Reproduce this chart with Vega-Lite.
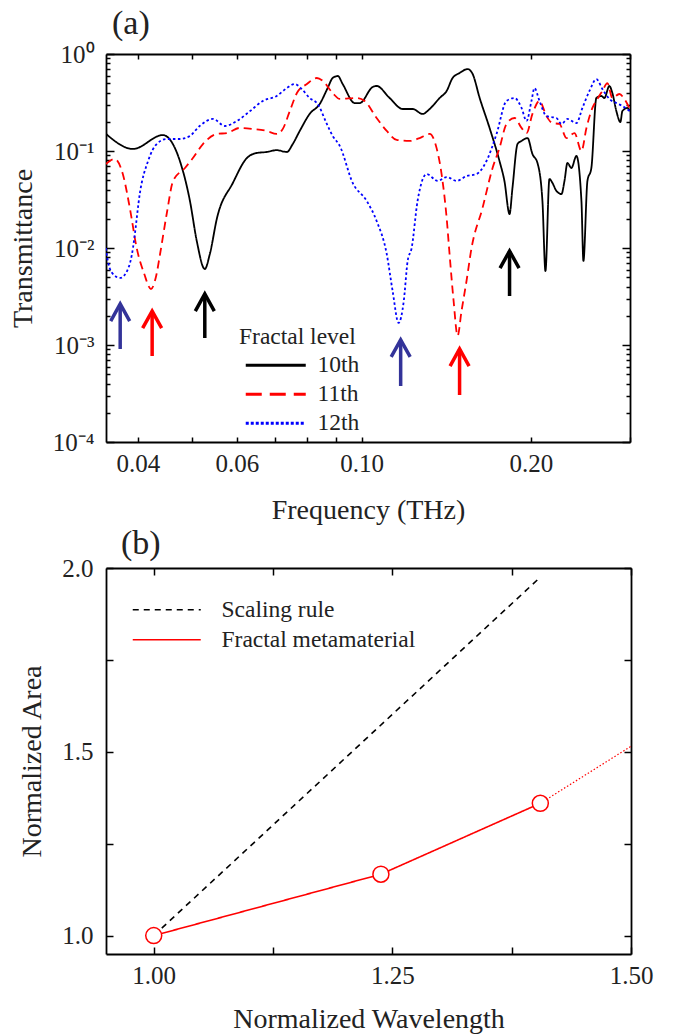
{
  "$schema": "https://vega.github.io/schema/vega-lite/v6.json",
  "autosize": {"type": "pad"},
  "padding": {"left": 9, "top": 7, "right": 5, "bottom": 5},
  "background": "white",
  "spacing": 126,
  "bounds": "flush",
  "resolve": {"scale": {"color": "independent", "strokeDash": "independent"}, "legend": {"color": "independent", "strokeDash": "independent"}},
  "config": {
    "font": "Liberation Serif",
    "view": {"stroke": null},
    "style": {"guide-label": {"font": "Liberation Serif"}, "guide-title": {"font": "Liberation Serif"}},
    "axis": {
      "domainColor": "black", "domainWidth": 1.8, "tickColor": "black", "tickWidth": 1.5,
      "grid": false, "labelColor": "#222", "titleColor": "#222",
      "labelFont": "Liberation Serif", "titleFont": "Liberation Serif",
      "labelFontSize": 25, "titleFontSize": 28, "titleFontWeight": "normal"
    },
    "legend": {"labelFont": "Liberation Serif", "titleFont": "Liberation Serif", "labelColor": "#222", "titleColor": "#222", "labelLimit": 0},
    "title": {"font": "Liberation Serif", "fontSize": 34, "fontWeight": "normal", "anchor": "start", "frame": "group", "color": "#222"}
  },
  "vconcat": [
    {
      "width": 524, "height": 388,
      "title": {"text": "(a)", "dx": 6, "offset": 1},
      "resolve": {"axis": {"x": "independent", "y": "independent"}, "scale": {"color": "independent"}},
      "layer": [
        {
          "data": {"values": [
            {"level":"10th","f":0.0351,"T":0.150},{"level":"10th","f":0.0392,"T":0.105},{"level":"10th","f":0.0443,"T":0.146},{"level":"10th","f":0.0475,"T":0.0789},{"level":"10th","f":0.0495,"T":0.0305},{"level":"10th","f":0.0509,"T":0.0118},{"level":"10th","f":0.0526,"T":0.00607},{"level":"10th","f":0.0537,"T":0.00867},{"level":"10th","f":0.0553,"T":0.0204},{"level":"10th","f":0.0590,"T":0.0468},{"level":"10th","f":0.0625,"T":0.0847},{"level":"10th","f":0.0651,"T":0.0954},{"level":"10th","f":0.0678,"T":0.0977},{"level":"10th","f":0.0706,"T":0.102},{"level":"10th","f":0.0736,"T":0.0977},{"level":"10th","f":0.0754,"T":0.118},{"level":"10th","f":0.0776,"T":0.161},{"level":"10th","f":0.0808,"T":0.241},{"level":"10th","f":0.0842,"T":0.305},{"level":"10th","f":0.0870,"T":0.446},{"level":"10th","f":0.0888,"T":0.566},{"level":"10th","f":0.0907,"T":0.593},{"level":"10th","f":0.0925,"T":0.491},{"level":"10th","f":0.0972,"T":0.312},{"level":"10th","f":0.0992,"T":0.312},{"level":"10th","f":0.1046,"T":0.457},{"level":"10th","f":0.1063,"T":0.468},{"level":"10th","f":0.1121,"T":0.352},{"level":"10th","f":0.1183,"T":0.271},{"level":"10th","f":0.1232,"T":0.271},{"level":"10th","f":0.1283,"T":0.241},{"level":"10th","f":0.1321,"T":0.271},{"level":"10th","f":0.1376,"T":0.352},{"level":"10th","f":0.1416,"T":0.416},{"level":"10th","f":0.1451,"T":0.566},{"level":"10th","f":0.1493,"T":0.637},{"level":"10th","f":0.1543,"T":0.700},{"level":"10th","f":0.1575,"T":0.622},{"level":"10th","f":0.1621,"T":0.352},{"level":"10th","f":0.1688,"T":0.173},{"level":"10th","f":0.1758,"T":0.0789},{"level":"10th","f":0.1794,"T":0.0491},{"level":"10th","f":0.1832,"T":0.0224},{"level":"10th","f":0.1854,"T":0.0416},{"level":"10th","f":0.1893,"T":0.118},{"level":"10th","f":0.1924,"T":0.127},{"level":"10th","f":0.1972,"T":0.136},{"level":"10th","f":0.2012,"T":0.0931},{"level":"10th","f":0.2054,"T":0.0752},{"level":"10th","f":0.2096,"T":0.0305},{"level":"10th","f":0.2122,"T":0.00579},{"level":"10th","f":0.2157,"T":0.0514},{"level":"10th","f":0.2184,"T":0.0468},{"level":"10th","f":0.2220,"T":0.0387},{"level":"10th","f":0.2266,"T":0.0360},{"level":"10th","f":0.2294,"T":0.0491},{"level":"10th","f":0.2322,"T":0.0752},{"level":"10th","f":0.2360,"T":0.0668},{"level":"10th","f":0.2409,"T":0.0888},{"level":"10th","f":0.2459,"T":0.0305},{"level":"10th","f":0.2479,"T":0.00735},{"level":"10th","f":0.2520,"T":0.0491},{"level":"10th","f":0.2561,"T":0.0668},{"level":"10th","f":0.2614,"T":0.352},{"level":"10th","f":0.2668,"T":0.369},{"level":"10th","f":0.2701,"T":0.352},{"level":"10th","f":0.2757,"T":0.468},{"level":"10th","f":0.2791,"T":0.396},{"level":"10th","f":0.2837,"T":0.258},{"level":"10th","f":0.2884,"T":0.199},{"level":"10th","f":0.2908,"T":0.258},{"level":"10th","f":0.2967,"T":0.278},{"level":"10th","f":0.2998,"T":0.258},
            {"level":"11th","f":0.0351,"T":0.0735},{"level":"11th","f":0.0364,"T":0.0827},{"level":"11th","f":0.0376,"T":0.0579},{"level":"11th","f":0.0387,"T":0.0258},{"level":"11th","f":0.0398,"T":0.0100},{"level":"11th","f":0.0410,"T":0.00552},{"level":"11th","f":0.0422,"T":0.00378},{"level":"11th","f":0.0431,"T":0.00514},{"level":"11th","f":0.0438,"T":0.00867},{"level":"11th","f":0.0450,"T":0.0224},{"level":"11th","f":0.0462,"T":0.0491},{"level":"11th","f":0.0485,"T":0.0668},{"level":"11th","f":0.0501,"T":0.0847},{"level":"11th","f":0.0522,"T":0.118},{"level":"11th","f":0.0553,"T":0.150},{"level":"11th","f":0.0576,"T":0.153},{"level":"11th","f":0.0607,"T":0.173},{"level":"11th","f":0.0640,"T":0.169},{"level":"11th","f":0.0678,"T":0.161},{"level":"11th","f":0.0706,"T":0.150},{"level":"11th","f":0.0724,"T":0.169},{"level":"11th","f":0.0745,"T":0.258},{"level":"11th","f":0.0767,"T":0.396},{"level":"11th","f":0.0799,"T":0.491},{"level":"11th","f":0.0832,"T":0.566},{"level":"11th","f":0.0853,"T":0.527},{"level":"11th","f":0.0888,"T":0.396},{"level":"11th","f":0.0914,"T":0.344},{"level":"11th","f":0.0980,"T":0.352},{"level":"11th","f":0.1012,"T":0.328},{"level":"11th","f":0.1063,"T":0.219},{"level":"11th","f":0.1108,"T":0.161},{"level":"11th","f":0.1154,"T":0.130},{"level":"11th","f":0.1217,"T":0.127},{"level":"11th","f":0.1268,"T":0.136},{"level":"11th","f":0.1321,"T":0.150},{"level":"11th","f":0.1359,"T":0.107},{"level":"11th","f":0.1387,"T":0.0579},{"level":"11th","f":0.1416,"T":0.0204},{"level":"11th","f":0.1433,"T":0.00867},{"level":"11th","f":0.1457,"T":0.00284},{"level":"11th","f":0.1481,"T":0.00124},{"level":"11th","f":0.1505,"T":0.00224},{"level":"11th","f":0.1536,"T":0.00457},{"level":"11th","f":0.1568,"T":0.0100},{"level":"11th","f":0.1640,"T":0.0258},{"level":"11th","f":0.1709,"T":0.0668},{"level":"11th","f":0.1758,"T":0.107},{"level":"11th","f":0.1809,"T":0.190},{"level":"11th","f":0.1870,"T":0.219},{"level":"11th","f":0.1924,"T":0.173},{"level":"11th","f":0.1964,"T":0.153},{"level":"11th","f":0.2012,"T":0.241},{"level":"11th","f":0.2071,"T":0.328},{"level":"11th","f":0.2131,"T":0.229},{"level":"11th","f":0.2184,"T":0.194},{"level":"11th","f":0.2247,"T":0.190},{"level":"11th","f":0.2313,"T":0.136},{"level":"11th","f":0.2390,"T":0.153},{"level":"11th","f":0.2459,"T":0.100},{"level":"11th","f":0.2510,"T":0.173},{"level":"11th","f":0.2572,"T":0.278},{"level":"11th","f":0.2625,"T":0.344},{"level":"11th","f":0.2679,"T":0.416},{"level":"11th","f":0.2735,"T":0.502},{"level":"11th","f":0.2791,"T":0.352},{"level":"11th","f":0.2872,"T":0.387},{"level":"11th","f":0.2932,"T":0.344},{"level":"11th","f":0.2998,"T":0.271},
            {"level":"12th","f":0.0351,"T":0.0100},{"level":"12th","f":0.0352,"T":0.00867},{"level":"12th","f":0.0360,"T":0.00552},{"level":"12th","f":0.0372,"T":0.00491},{"level":"12th","f":0.0384,"T":0.00607},{"level":"12th","f":0.0392,"T":0.0100},{"level":"12th","f":0.0395,"T":0.0139},{"level":"12th","f":0.0403,"T":0.0360},{"level":"12th","f":0.0417,"T":0.0789},{"level":"12th","f":0.0432,"T":0.118},{"level":"12th","f":0.0450,"T":0.133},{"level":"12th","f":0.0475,"T":0.133},{"level":"12th","f":0.0495,"T":0.143},{"level":"12th","f":0.0515,"T":0.181},{"level":"12th","f":0.0544,"T":0.214},{"level":"12th","f":0.0571,"T":0.181},{"level":"12th","f":0.0600,"T":0.204},{"level":"12th","f":0.0633,"T":0.258},{"level":"12th","f":0.0667,"T":0.328},{"level":"12th","f":0.0706,"T":0.369},{"level":"12th","f":0.0736,"T":0.446},{"level":"12th","f":0.0760,"T":0.491},{"level":"12th","f":0.0782,"T":0.436},{"level":"12th","f":0.0808,"T":0.352},{"level":"12th","f":0.0835,"T":0.305},{"level":"12th","f":0.0867,"T":0.190},{"level":"12th","f":0.0888,"T":0.143},{"level":"12th","f":0.0914,"T":0.113},{"level":"12th","f":0.0964,"T":0.0468},{"level":"12th","f":0.1021,"T":0.0305},{"level":"12th","f":0.1063,"T":0.0190},{"level":"12th","f":0.1108,"T":0.00867},{"level":"12th","f":0.1135,"T":0.00360},{"level":"12th","f":0.1163,"T":0.00169},{"level":"12th","f":0.1188,"T":0.00284},{"level":"12th","f":0.1207,"T":0.00735},{"level":"12th","f":0.1227,"T":0.0100},{"level":"12th","f":0.1257,"T":0.0305},{"level":"12th","f":0.1305,"T":0.0579},{"level":"12th","f":0.1365,"T":0.0491},{"level":"12th","f":0.1416,"T":0.0539},{"level":"12th","f":0.1475,"T":0.0491},{"level":"12th","f":0.1536,"T":0.0552},{"level":"12th","f":0.1600,"T":0.0579},{"level":"12th","f":0.1667,"T":0.0789},{"level":"12th","f":0.1737,"T":0.150},{"level":"12th","f":0.1809,"T":0.328},{"level":"12th","f":0.1870,"T":0.352},{"level":"12th","f":0.1924,"T":0.278},{"level":"12th","f":0.1964,"T":0.204},{"level":"12th","f":0.2004,"T":0.328},{"level":"12th","f":0.2029,"T":0.446},{"level":"12th","f":0.2071,"T":0.328},{"level":"12th","f":0.2131,"T":0.229},{"level":"12th","f":0.2220,"T":0.219},{"level":"12th","f":0.2266,"T":0.190},{"level":"12th","f":0.2322,"T":0.214},{"level":"12th","f":0.2409,"T":0.194},{"level":"12th","f":0.2469,"T":0.278},{"level":"12th","f":0.2541,"T":0.416},{"level":"12th","f":0.2614,"T":0.552},{"level":"12th","f":0.2679,"T":0.436},{"level":"12th","f":0.2757,"T":0.344},{"level":"12th","f":0.2837,"T":0.312},{"level":"12th","f":0.2908,"T":0.291},{"level":"12th","f":0.2998,"T":0.258}
          ]},
          "mark": {"type": "line", "strokeWidth": 1.8, "clip": true, "interpolate": "monotone"},
          "encoding": {
            "x": {"field": "f", "type": "quantitative",
              "scale": {"type": "log", "domain": [0.0351, 0.3], "nice": false, "zero": false},
              "axis": {"orient": "bottom", "title": "Frequency (THz)", "values": [0.04,0.05,0.06,0.07,0.08,0.09,0.1,0.2,0.3],
                "labelExpr": "indexof(['0.04','0.06','0.10','0.20'], format(datum.value,'.2f')) >= 0 ? format(datum.value,'.2f') : ''",
                "labelFont": "Liberation Serif", "titleFont": "Liberation Serif",
                "tickSize": -5, "labelPadding": 14, "titlePadding": 20, "labelFlush": false, "labelOverlap": false}},
            "y": {"field": "T", "type": "quantitative",
              "scale": {"type": "log", "domain": [0.0001, 1], "nice": false, "zero": false},
              "axis": {"orient": "left", "title": "Transmittance",
                "values": [0.0001,0.0002,0.0003,0.0004,0.0005,0.0006,0.0007,0.0008,0.0009,0.001,0.002,0.003,0.004,0.005,0.006,0.007,0.008,0.009,0.01,0.02,0.03,0.04,0.05,0.06,0.07,0.08,0.09,0.1,0.2,0.3,0.4,0.5,0.6,0.7,0.8,0.9,1],
                "labelExpr": "abs(log(datum.value)/LN10 - round(log(datum.value)/LN10)) < 1e-6 ? ['10⁻⁴','10⁻³','10⁻²','10⁻¹','10⁰'][round(log(datum.value)/LN10)+4] : ''",
                "labelFont": "Liberation Serif", "titleFont": "Liberation Serif",
                "tickSize": {"condition": {"test": "abs(log(datum.value)/LN10 - round(log(datum.value)/LN10)) < 1e-6", "value": -8}, "value": -4},
                "labelPadding": 20, "titlePadding": 15, "labelFlush": false, "labelOverlap": false}},
            "color": {"field": "level", "type": "nominal",
              "scale": {"domain": ["10th", "11th", "12th"], "range": ["black", "#ff0000", "#0000ff"]},
              "legend": {"orient": "none", "legendX": 133, "legendY": 271, "title": "Fractal level",
                "labelFont": "Liberation Serif", "titleFont": "Liberation Serif",
                "titleFontSize": 23.5, "titleFontWeight": "normal", "labelFontSize": 23.5, "titlePadding": 5,
                "symbolType": "M-0.5,0H5.5", "symbolSize": 400, "symbolStrokeWidth": 3, "labelOffset": 55, "rowPadding": 4,
                "encode": {"symbols": {"update": {
                  "strokeDash": [{"test": "datum.value === '11th'", "value": [16, 8]}, {"test": "datum.value === '12th'", "value": [3, 2]}, {"value": [1, 0]}],
                  "stroke": [{"test": "datum.value === '11th'", "value": "#ff0000"}, {"test": "datum.value === '12th'", "value": "#2e3192"}, {"value": "black"}]}}}}},
            "strokeDash": {"field": "level", "type": "nominal", "legend": null,
              "scale": {"domain": ["10th", "11th", "12th"], "range": [[1, 0], [8, 5], [2.5, 2.5]]}}
          }
        },
        {
          "data": {"name": "arrows", "values": [
            {"level":"12th","f":0.0372,"tip":0.00265,"tail":0.00091},
            {"level":"11th","f":0.0424,"tip":0.00224,"tail":0.00077},
            {"level":"10th","f":0.0526,"tip":0.00336,"tail":0.00118},
            {"level":"12th","f":0.1173,"tip":0.00113,"tail":0.000378},
            {"level":"11th","f":0.1493,"tip":0.00091,"tail":0.000305},
            {"level":"10th","f":0.1832,"tip":0.00931,"tail":0.0032}
          ]},
          "mark": {"type": "rule", "strokeWidth": 3.5},
          "encoding": {
            "x": {"field": "f", "type": "quantitative",
              "axis": {"orient": "top", "title": null, "labels": false, "values": [0.04,0.05,0.06,0.07,0.08,0.09,0.1,0.2,0.3], "tickSize": -5}},
            "y": {"field": "tip", "type": "quantitative",
              "axis": {"orient": "right", "title": null, "labels": false,
                "values": [0.0001,0.0002,0.0003,0.0004,0.0005,0.0006,0.0007,0.0008,0.0009,0.001,0.002,0.003,0.004,0.005,0.006,0.007,0.008,0.009,0.01,0.02,0.03,0.04,0.05,0.06,0.07,0.08,0.09,0.1,0.2,0.3,0.4,0.5,0.6,0.7,0.8,0.9,1],
                "tickSize": {"condition": {"test": "abs(log(datum.value)/LN10 - round(log(datum.value)/LN10)) < 1e-6", "value": -8}, "value": -4}}},
            "y2": {"field": "tail"},
            "color": {"field": "level", "type": "nominal", "scale": {"domain": ["10th", "11th", "12th"], "range": ["black", "#ff0000", "#333399"]}, "legend": null}
          }
        },
        {
          "data": {"name": "arrows"},
          "mark": {"type": "point", "shape": "M-1,1.8L0,0L1,1.8", "size": 361, "filled": false, "strokeWidth": 3.5, "strokeJoin": "miter", "opacity": 1},
          "encoding": {
            "x": {"field": "f", "type": "quantitative", "axis": null},
            "y": {"field": "tip", "type": "quantitative", "axis": null},
            "color": {"field": "level", "type": "nominal", "scale": {"domain": ["10th", "11th", "12th"], "range": ["black", "#ff0000", "#333399"]}, "legend": null}
          }
        }
      ]
    },
    {
      "width": 525, "height": 386,
      "title": {"text": "(b)", "dx": 15, "offset": -5},
      "resolve": {"axis": {"x": "independent", "y": "independent"}},
      "layer": [
        {
          "data": {"values": [
            {"series": "Scaling rule", "lambda": 1.0, "area": 1.0},
            {"series": "Scaling rule", "lambda": 1.405, "area": 1.975},
            {"series": "Fractal metamaterial", "lambda": 1.0, "area": 1.0},
            {"series": "Fractal metamaterial", "lambda": 1.238, "area": 1.167},
            {"series": "Fractal metamaterial", "lambda": 1.405, "area": 1.36}
          ]},
          "mark": {"type": "line", "strokeWidth": 1.6},
          "encoding": {
            "x": {"field": "lambda", "type": "quantitative",
              "scale": {"domain": [0.95, 1.5], "nice": false, "zero": false},
              "axis": {"orient": "bottom", "title": "Normalized Wavelength", "values": [1, 1.125, 1.25, 1.375, 1.5],
                "labelExpr": "indexof(['1.00','1.25','1.50'], format(datum.value,'.2f')) >= 0 ? format(datum.value,'.2f') : ''",
                "labelFont": "Liberation Serif", "titleFont": "Liberation Serif",
                "tickSize": -7, "labelPadding": 16, "titlePadding": 17, "labelFlush": false, "labelOverlap": false}},
            "y": {"field": "area", "type": "quantitative",
              "scale": {"domain": [0.95, 2.0], "nice": false, "zero": false},
              "axis": {"orient": "left", "title": "Normalized Area", "values": [1, 1.25, 1.5, 1.75, 2],
                "labelExpr": "abs(datum.value*2 - round(datum.value*2)) < 1e-6 ? format(datum.value,'.1f') : ''",
                "labelFont": "Liberation Serif", "titleFont": "Liberation Serif",
                "tickSize": -7, "labelPadding": 20, "titlePadding": 15, "labelFlush": false, "labelOverlap": false}},
            "color": {"field": "series", "type": "nominal",
              "scale": {"domain": ["Scaling rule", "Fractal metamaterial"], "range": ["black", "#ff0000"]},
              "legend": {"orient": "none", "legendX": 25, "legendY": 30, "title": null, "labelFontSize": 23.5, "labelLimit": 0,
                "labelFont": "Liberation Serif",
                "symbolType": "M-1,0H5.8", "symbolSize": 400, "symbolStrokeWidth": 1.6, "labelOffset": 67, "rowPadding": 5,
                "encode": {"symbols": {"update": {
                  "strokeDash": [{"test": "datum.value === 'Scaling rule'", "value": [6, 4]}, {"value": [1, 0]}]}}}}},
            "strokeDash": {"field": "series", "type": "nominal", "legend": null,
              "scale": {"domain": ["Scaling rule", "Fractal metamaterial"], "range": [[6, 5], [1, 0]]}}
          }
        },
        {
          "data": {"values": [
            {"lambda": 1.405, "area": 1.36},
            {"lambda": 1.5, "area": 1.515}
          ]},
          "mark": {"type": "line", "color": "#ff0000", "strokeWidth": 1.2, "strokeDash": [1.5, 2]},
          "encoding": {
            "x": {"field": "lambda", "type": "quantitative",
              "axis": {"orient": "top", "title": null, "labels": false, "values": [1, 1.125, 1.25, 1.375, 1.5], "tickSize": -7}},
            "y": {"field": "area", "type": "quantitative",
              "axis": {"orient": "right", "title": null, "labels": false, "values": [1, 1.25, 1.5, 1.75, 2], "tickSize": -7}}
          }
        },
        {
          "data": {"values": [
            {"lambda": 1.0, "area": 1.0},
            {"lambda": 1.238, "area": 1.167},
            {"lambda": 1.405, "area": 1.36}
          ]},
          "mark": {"type": "point", "shape": "circle", "size": 256, "filled": true, "fill": "white", "stroke": "#ff0000", "strokeWidth": 1.5, "opacity": 1},
          "encoding": {
            "x": {"field": "lambda", "type": "quantitative", "axis": null},
            "y": {"field": "area", "type": "quantitative", "axis": null}
          }
        }
      ]
    }
  ]
}
